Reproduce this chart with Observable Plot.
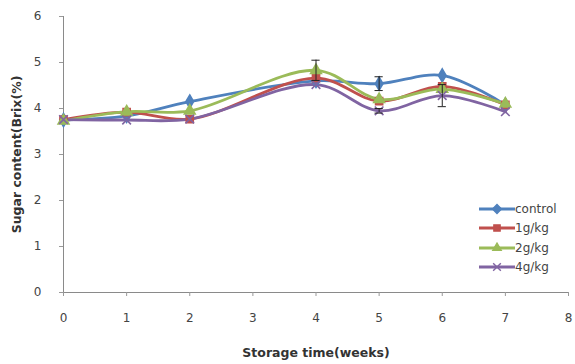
<!DOCTYPE html>
<html>
<head>
<meta charset="utf-8">
<script src="https://cdn.jsdelivr.net/npm/d3@7"></script>
<script src="https://cdn.jsdelivr.net/npm/@observablehq/plot@0.6"></script>
<style>
  html, body { margin: 0; padding: 0; background: #fff; }
  #wrap { position: relative; width: 575px; height: 364px; font-family: "DejaVu Sans", sans-serif; }
  #legend { position: absolute; left: 479px; top: 199px; font-size: 12px; color: #444; }
  #legend .row { display: flex; align-items: center; height: 19.5px; }
  #legend svg { display: block; }
</style>
</head>
<body>
<div id="wrap"></div>
<script>
const weeks = [0, 1, 2, 4, 5, 6, 7];
const seriesNames = ["control", "1g/kg", "2g/kg", "4g/kg"];
const colors = ["#4F81BD", "#C0504D", "#9BBB59", "#8064A2"];
const symbols = ["diamond", "square", "triangle", "times"];
const controlVals = [3.75, 3.84, 4.15, 4.60, 4.54, 4.72, 4.08];
const g1Vals      = [3.76, 3.92, 3.77, 4.66, 4.16, 4.48, 4.08];
const g2Vals      = [3.73, 3.93, 3.95, 4.83, 4.20, 4.42, 4.10];
const g4Vals      = [3.76, 3.75, 3.77, 4.52, 3.95, 4.28, 3.93];
const controlErr  = [0, 0, 0, 0, 0.15, 0, 0];
const g1Err       = [0, 0, 0, 0, 0, 0, 0];
const g2Err       = [0, 0, 0, 0.22, 0, 0, 0];
const g4Err       = [0, 0, 0, 0, 0.05, 0.24, 0];
const xTicks = [0, 1, 2, 3, 4, 5, 6, 7, 8];
const yTicks = [0, 1, 2, 3, 4, 5, 6];

const allVals = [controlVals, g1Vals, g2Vals, g4Vals];
const allErr = [controlErr, g1Err, g2Err, g4Err];
const data = [];
seriesNames.forEach((s, i) => {
  weeks.forEach((w, j) => data.push({series: s, week: w, value: allVals[i][j], err: allErr[i][j]}));
});
const errData = data.filter(d => d.err > 0);
const capHalf = 0.065;

const plot = Plot.plot({
  width: 575,
  height: 364,
  marginLeft: 63,
  marginRight: 7,
  marginTop: 16,
  marginBottom: 72,
  style: {fontFamily: "DejaVu Sans, sans-serif", fontSize: "12px", color: "#444", background: "#fff"},
  x: {type: "linear", domain: [0, 8]},
  y: {type: "linear", domain: [0, 6]},
  color: {domain: seriesNames, range: colors},
  symbol: {domain: seriesNames, range: symbols},
  marks: [
    Plot.ruleX([0], {stroke: "#8a8a8a", strokeWidth: 1}),
    Plot.ruleY([0], {stroke: "#8a8a8a", strokeWidth: 1}),
    Plot.axisX({ticks: xTicks, tickSize: 4, tickPadding: 17, stroke: "#999", fill: "#444", tickFormat: d3.format("d"), label: null}),
    Plot.axisY({ticks: yTicks, tickSize: 4, tickPadding: 18, stroke: "#999", fill: "#444", tickFormat: d3.format("d"), label: null}),
    Plot.axisX({ticks: [], label: "Storage time(weeks)", labelAnchor: "center", labelArrow: "none", labelOffset: 64, fontWeight: "bold", fontSize: 12.5, fill: "#333"}),
    Plot.axisY({ticks: [], label: "Sugar content(Brix(%)", labelAnchor: "center", labelArrow: "none", labelOffset: 51, fontWeight: "bold", fontSize: 12.5, fill: "#333"}),
    Plot.line(data, {x: "week", y: "value", z: "series", stroke: "series", strokeWidth: 2.8, curve: "catmull-rom"}),
    Plot.dot(data, {x: "week", y: "value", symbol: "series", fill: "series", stroke: "series", r: 4, strokeWidth: 1.6}),
    Plot.ruleX(errData, {x: "week", y1: d => d.value - d.err, y2: d => d.value + d.err, stroke: "#222", strokeWidth: 1}),
    Plot.ruleY(errData, {x1: d => d.week - capHalf, x2: d => d.week + capHalf, y: d => d.value + d.err, stroke: "#222", strokeWidth: 1}),
    Plot.ruleY(errData, {x1: d => d.week - capHalf, x2: d => d.week + capHalf, y: d => d.value - d.err, stroke: "#222", strokeWidth: 1})
  ]
});

const wrap = document.getElementById("wrap");
wrap.appendChild(plot);

// legend
const legend = document.createElement("div");
legend.id = "legend";
seriesNames.forEach((s, i) => {
  const row = document.createElement("div");
  row.className = "row";
  const sw = d3.create("svg").attr("width", 36).attr("height", 12);
  sw.append("line").attr("x1", 0).attr("x2", 36).attr("y1", 6).attr("y2", 6)
    .attr("stroke", colors[i]).attr("stroke-width", 2.8);
  const sym = {diamond: d3.symbolDiamond2, square: d3.symbolSquare2, triangle: d3.symbolTriangle2, times: d3.symbolTimes}[symbols[i]];
  const isStroke = symbols[i] === "times";
  sw.append("path").attr("d", d3.symbol(sym, isStroke ? 40 : 50)())
    .attr("transform", "translate(18,6)")
    .attr("fill", isStroke ? "none" : colors[i]).attr("stroke", colors[i]).attr("stroke-width", 1.4);
  row.appendChild(sw.node());
  const t = document.createElement("span");
  t.textContent = s;
  row.appendChild(t);
  legend.appendChild(row);
});
wrap.appendChild(legend);
</script>
</body>
</html>
